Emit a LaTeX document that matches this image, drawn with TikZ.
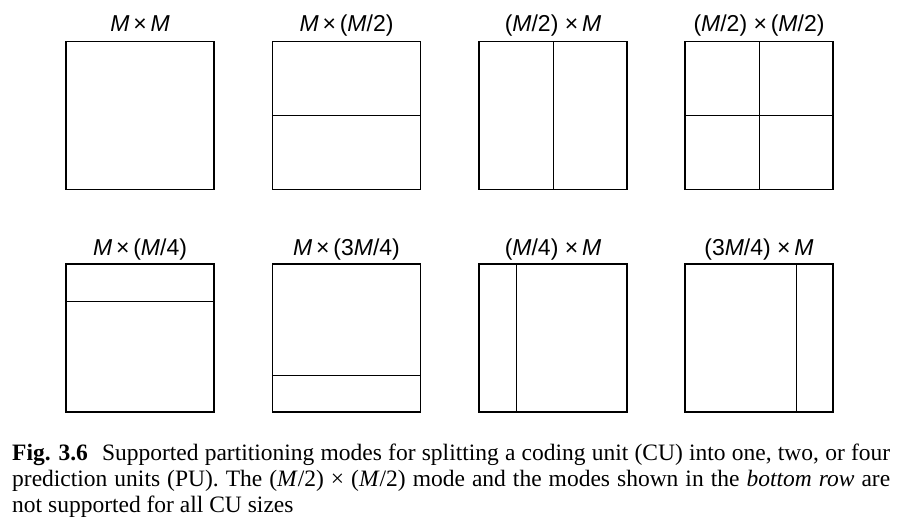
\documentclass[tikz,border=0pt]{standalone}
\usepackage{fontspec}
\setmainfont{Liberation Serif}
\newfontfamily\lblfont{Liberation Sans}
\usetikzlibrary{calc}
\tikzset{
  cu/.style={draw, line width=1.7pt, minimum width=148pt, minimum height=148pt, inner sep=0pt, outer sep=0pt},
  split/.style={line width=0.9pt},
  lbl/.style={anchor=base, inner sep=0pt, font=\lblfont\fontsize{23}{25}\selectfont}
}
\begin{document}
\begin{tikzpicture}[x=1pt,y=-1pt]
\useasboundingbox[fill=white] (0,0) rectangle (902,525);
% row 1
\node[cu] (a1) at (140,115.5) {};
\node[cu] (a2) at (346.5,115.5) {};
\node[cu] (a3) at (553,115.5) {};
\node[cu] (a4) at (759,115.5) {};
% row 2
\node[cu] (b1) at (140,338) {};
\node[cu] (b2) at (346.5,338) {};
\node[cu] (b3) at (553,338) {};
\node[cu] (b4) at (759,338) {};
% labels
\node[lbl] (la1) at (140,31.7) {\textit{M}\,×\,\textit{M}};
\node[lbl] (la2) at (346.5,31.7) {\textit{M}\,×\,(\textit{M}/2)};
\node[lbl] (la3) at (553,31.7) {(\textit{M}/2)\;×\,\textit{M}};
\node[lbl] (la4) at (759,31.7) {(\textit{M}/2)\;×\,(\textit{M}/2)};
\node[lbl] (lb1) at (140,255.7) {\textit{M}\,×\,(\textit{M}/4)};
\node[lbl] (lb2) at (346.5,255.7) {\textit{M}\,×\,(3\textit{M}/4)};
\node[lbl] (lb3) at (553,255.7) {(\textit{M}/4)\;×\,\textit{M}};
\node[lbl] (lb4) at (759,255.7) {(3\textit{M}/4)\;×\,\textit{M}};
% splits
\draw[split] (a2.west) -- (a2.east);
\draw[split] (a3.north) -- (a3.south);
\draw[split] (a4.west) -- (a4.east);
\draw[split] (a4.north) -- (a4.south);
\draw[split] ($(b1.north west)!0.25!(b1.south west)$) -- ($(b1.north east)!0.25!(b1.south east)$);
\draw[split] ($(b2.north west)!0.75!(b2.south west)$) -- ($(b2.north east)!0.75!(b2.south east)$);
\draw[split] ($(b3.north west)!0.25!(b3.north east)$) -- ($(b3.south west)!0.25!(b3.south east)$);
\draw[split] ($(b4.north west)!0.75!(b4.north east)$) -- ($(b4.south west)!0.75!(b4.south east)$);
% caption
\node[anchor=north west, inner sep=0pt, text width=878pt, align=justify,
      font=\fontsize{23.5}{26}\selectfont] (cap) at (12,443.5)
  {\mbox{\textbf{Fig. 3.6}}\hspace{0.6em}Supported partitioning modes for splitting a coding unit (CU) into one, two, or four\linebreak
   prediction units (PU). The (\textit{M}/2) × (\textit{M}/2) mode and the modes shown in the \textit{bottom row} are\linebreak
   not supported for all CU sizes};
\end{tikzpicture}
\end{document}
